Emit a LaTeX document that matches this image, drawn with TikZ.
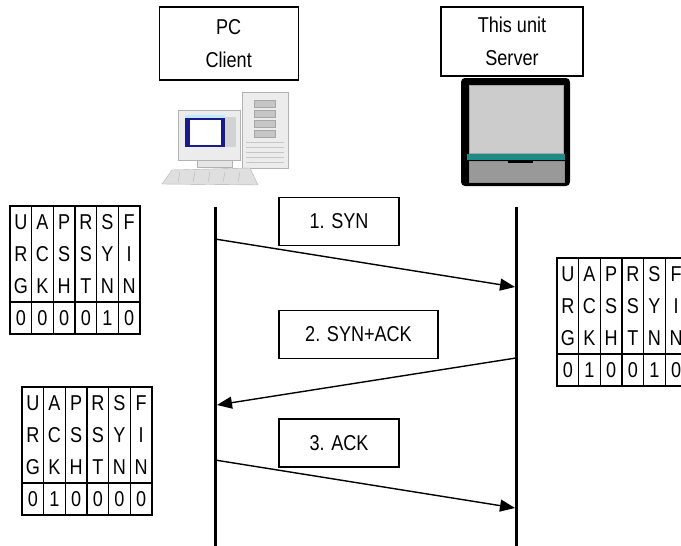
\documentclass[tikz,border=0pt]{standalone}
\usepackage{fontspec}
\setmainfont{Liberation Sans}[FakeStretch=0.84]
\usetikzlibrary{arrows.meta}
\definecolor{tealbar}{HTML}{1E8C86}
\definecolor{navyscr}{HTML}{1A1A8C}

\begin{document}
\begin{tikzpicture}[x=1pt,y=-1pt,
		font=\fontsize{21.5}{33}\selectfont,
		host/.style={draw,line width=1.4pt,align=center,inner sep=0pt},
		lbl/.style={draw,line width=1.4pt,minimum width=120pt,minimum height=48pt,inner sep=0pt},
		life/.style={line width=3pt},
		msg/.style={line width=1.4pt,-{Triangle[length=15pt,width=12pt]}},
		cell/.style={minimum width=21.7pt,minimum height=32pt,inner sep=0pt},
		grid/.style={line width=1.4pt}]
	\useasboundingbox (0,0) rectangle (681,546);

	% hosts
	\node[host,minimum width=139pt,minimum height=73pt] (pc) at (228.7,43.6) {PC\\Client};
	\node[host,minimum width=142pt,minimum height=69pt] (unit) at (512,41.5) {This unit\\Server};

	% client pc
	\draw[fill=gray!15,draw=gray!60] (242,92) rectangle (288,168);
	\foreach \yy in {100,110,120,130}
		\draw[fill=gray!45,draw=gray!70] (254,\yy) rectangle (275,\yy+7);
	\foreach \yy in {142,147,...,165}
		\draw[gray!45] (246,\yy) -- (284,\yy);
	\draw[fill=gray!20,draw=gray!60] (197,158) rectangle (232,167);
	\draw[fill=gray!15,draw=gray!60] (178,110) rectangle (240,160);
	\fill[navyscr] (185,115) rectangle (225,147);
	\fill[white] (190,120) rectangle (221,145);
	\fill[cyan!25] (185,115) rectangle (225,118);
	\fill[gray!35] (225,117) rectangle (236,147);
	\draw[fill=gray!25,draw=gray!60] (162,184) -- (172,170) -- (250,168) -- (258,185) -- cycle;
	\foreach \xx in {180,195,...,240}
		\draw[gray!55] (\xx,172) -- (\xx-2,182);

	% server unit
	\fill[black,rounded corners=4pt] (461,78) rectangle (570,186);
	\draw[fill=gray!40,draw=gray!70,line width=1pt] (469,85) rectangle (563,153);
	\fill[tealbar] (467,154) rectangle (565,160);
	\draw[fill=gray!80,draw=gray!90] (469,161) rectangle (564,182);
	\fill[black] (508,160) rectangle (533,163);

	% lifelines
	\coordinate (pc top) at (215,207);
	\coordinate (pc bot) at (215,546);
	\coordinate (unit top) at (516,207);
	\coordinate (unit bot) at (516,546);
	\draw[life] (pc top) -- (pc bot);
	\draw[life] (unit top) -- (unit bot);

	% handshake
	\node[lbl] (syn) at (339,221.5) {1. SYN};
	\node[lbl,minimum width=159pt] (synack) at (358.5,334.5) {2. SYN+ACK};
	\node[lbl] (ack) at (339,443) {3. ACK};

	\coordinate (syn s) at (215,239);
	\coordinate (syn e) at (515,287);
	\coordinate (synack s) at (516,358);
	\coordinate (synack e) at (217,405);
	\coordinate (ack s) at (215,460);
	\coordinate (ack e) at (515,508);
	\draw[msg] (syn s) -- (syn e);
	\draw[msg] (synack s) -- (synack e);
	\draw[msg] (ack s) -- (ack e);

	% flag tables
	\foreach \tn/\tx/\ty/\da/\db/\dc/\dd/\de/\df in {fa/10/206/0/0/0/0/1/0, fb/557/258/0/1/0/0/1/0, fc/22/387/0/1/0/0/0/0}{
		\draw[grid] (\tx,\ty) rectangle ++(130,128);
		\draw[grid] (\tx,\ty+96) -- ++(130,0);
		\foreach \ca/\cb/\cc/\cd [count=\i] in {U/R/G/\da, A/C/K/\db, P/S/H/\dc, R/S/T/\dd, S/Y/N/\de, F/I/N/\df}{
			\node[cell] (\tn-\i-a) at (\tx+\i*21.667-10.833,\ty+16) {\ca};
			\node[cell] (\tn-\i-b) at (\tx+\i*21.667-10.833,\ty+48) {\cb};
			\node[cell] (\tn-\i-c) at (\tx+\i*21.667-10.833,\ty+80) {\cc};
			\node[cell] (\tn-\i-d) at (\tx+\i*21.667-10.833,\ty+112) {\cd};
			\ifnum\i<6 \draw[grid] (\tx+\i*21.667,\ty) -- ++(0,128); \fi
		}
	}
\end{tikzpicture}
\end{document}
